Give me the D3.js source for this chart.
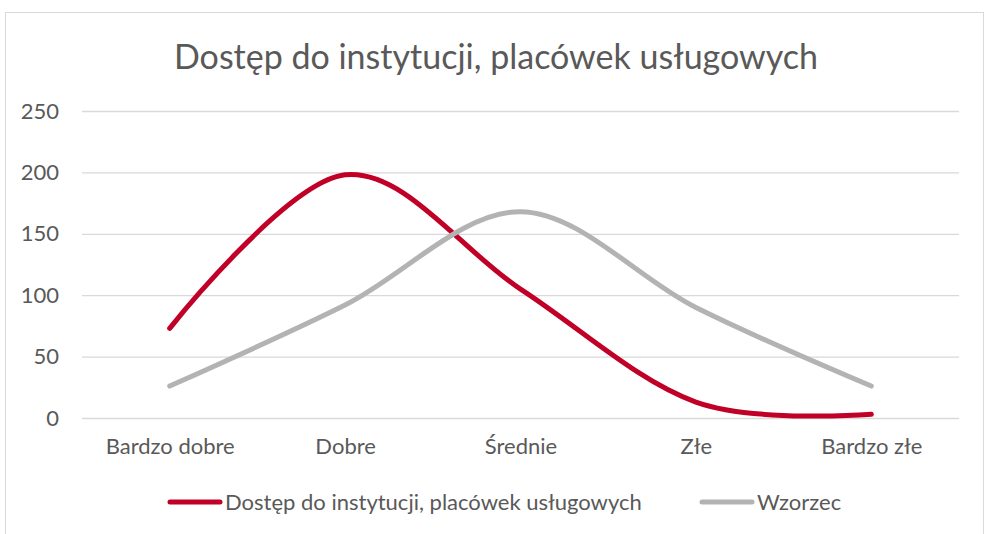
<!DOCTYPE html>
<html>
<head>
<meta charset="utf-8">
<script src="https://cdn.jsdelivr.net/npm/d3@7"></script>
<style>
  body { margin: 0; background: #fff; }
  text { font-family: Lato, "Open Sans", sans-serif; fill: #595959; }
</style>
</head>
<body>
<div id="chart"></div>
<script>
const categories = ['Bardzo dobre', 'Dobre', 'Średnie', 'Złe', 'Bardzo złe']
const dostep = [73, 198, 105, 13, 3]
const wzorzec = [26, 92, 168, 90, 26]
const yTicks = [0, 50, 100, 150, 200, 250]

const title = 'Dostęp do instytucji, placówek usługowych'
const series = [
  { name: 'Dostęp do instytucji, placówek usługowych', values: dostep, color: '#c00027' },
  { name: 'Wzorzec', values: wzorzec, color: '#b3b3b3' }
]

const W = 989, H = 534
const margin = { top: 111, right: 30, bottom: 116, left: 82 }
const w = W - margin.left - margin.right
const h = H - margin.top - margin.bottom

const svg = d3.select('#chart').append('svg').attr('width', W).attr('height', H)

// chart frame
svg.append('rect')
  .attr('x', 5.5).attr('y', 12.5).attr('width', 978).attr('height', 540)
  .attr('fill', 'none').attr('stroke', '#d9d9d9')

svg.append('text')
  .attr('x', 496).attr('y', 69)
  .attr('text-anchor', 'middle').attr('font-size', 34)
  .text(title)

const g = svg.append('g').attr('transform', `translate(${margin.left},${margin.top})`)

const x = d3.scalePoint().domain(categories).range([0, w]).padding(0.5)
const y = d3.scaleLinear().domain([0, 250]).range([h, 0])

// gridlines
g.append('g')
  .call(d3.axisLeft(y).tickValues(yTicks).tickSize(-w).tickFormat(''))
  .call(s => s.select('.domain').remove())
  .call(s => s.selectAll('line').attr('stroke', '#d9d9d9').attr('stroke-width', 1.3))

// y labels
g.append('g')
  .call(d3.axisLeft(y).tickValues(yTicks).tickSize(0).tickPadding(23))
  .call(s => s.select('.domain').remove())
  .call(s => s.selectAll('text').attr('font-size', 22).attr('fill', '#595959').style('font-family', 'Lato, sans-serif'))

// x labels
g.append('g')
  .attr('transform', `translate(0,${h})`)
  .call(d3.axisBottom(x).tickSize(0).tickPadding(20))
  .call(s => s.select('.domain').remove())
  .call(s => s.selectAll('text').attr('font-size', 22).attr('fill', '#595959').style('font-family', 'Lato, sans-serif'))

const line = d3.line()
  .x((d, i) => x(categories[i]))
  .y(d => y(d))
  .curve(d3.curveCatmullRom.alpha(0))

series.forEach(s => {
  g.append('path')
    .datum(s.values)
    .attr('fill', 'none')
    .attr('stroke', s.color)
    .attr('stroke-width', 5)
    .attr('stroke-linecap', 'round')
    .attr('stroke-linejoin', 'round')
    .attr('d', line)
})

// legend
const legendItems = [
  { x: 168, ...series[0] },
  { x: 700, ...series[1] }
]
const lg = svg.append('g').attr('transform', 'translate(0,502)')
legendItems.forEach(d => {
  lg.append('line')
    .attr('x1', d.x + 2).attr('x2', d.x + 52)
    .attr('stroke', d.color).attr('stroke-width', 5).attr('stroke-linecap', 'round')
  lg.append('text')
    .attr('x', d.x + 57).attr('dy', '0.35em')
    .attr('font-size', 22)
    .text(d.name)
})
</script>
</body>
</html>
